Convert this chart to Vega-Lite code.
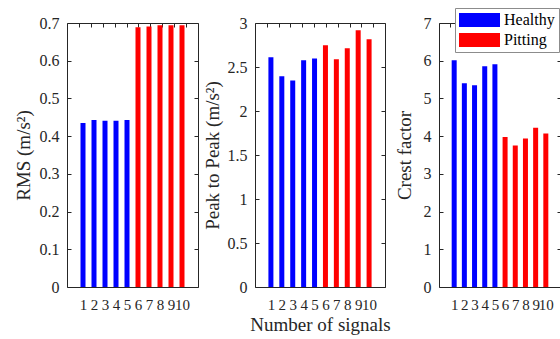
{
  "$schema": "https://vega.github.io/schema/vega-lite/v6.json",
  "padding": {"left": 13, "top": 7, "right": 0, "bottom": 0},
  "background": "white",
  "config": {
    "font": "Liberation Serif",
    "view": {"stroke": "#262626", "strokeWidth": 1},
    "axis": {
      "grid": false,
      "domain": false,
      "tickColor": "#262626",
      "tickWidth": 1,
      "tickSize": 4,
      "labelColor": "#262626",
      "titleColor": "#262626",
      "labelFont": "Liberation Serif",
      "titleFont": "Liberation Serif",
      "labelFontSize": 16,
      "titleFontSize": 19,
      "titleFontWeight": "normal",
      "labelPadding": 8,
      "labelOverlap": false,
      "labelFlush": false
    },
    "axisX": {"labelAngle": 0, "labelPadding": 10, "titlePadding": 3, "labelFontSize": 15},
    "legend": {
      "labelFont": "Liberation Serif",
      "labelFontSize": 16,
      "labelColor": "#000000"
    }
  },
  "data": {
    "values": [
      {"signal": 1, "condition": "Healthy", "rms": 0.435, "p2p": 2.61, "crest": 6.01},
      {"signal": 2, "condition": "Healthy", "rms": 0.443, "p2p": 2.394, "crest": 5.405},
      {"signal": 3, "condition": "Healthy", "rms": 0.441, "p2p": 2.348, "crest": 5.35},
      {"signal": 4, "condition": "Healthy", "rms": 0.441, "p2p": 2.576, "crest": 5.85},
      {"signal": 5, "condition": "Healthy", "rms": 0.443, "p2p": 2.598, "crest": 5.907},
      {"signal": 6, "condition": "Pitting", "rms": 0.689, "p2p": 2.746, "crest": 3.98},
      {"signal": 7, "condition": "Pitting", "rms": 0.691, "p2p": 2.587, "crest": 3.75},
      {"signal": 8, "condition": "Pitting", "rms": 0.694, "p2p": 2.712, "crest": 3.935},
      {"signal": 9, "condition": "Pitting", "rms": 0.694, "p2p": 2.917, "crest": 4.225},
      {"signal": 10, "condition": "Pitting", "rms": 0.694, "p2p": 2.814, "crest": 4.067}
    ]
  },
  "spacing": 3,
  "resolve": {"scale": {"x": "independent", "y": "independent", "color": "independent"}, "legend": {"color": "independent"}},
  "hconcat": [
    {
      "width": 131,
      "height": 264,
      "resolve": {"scale": {"x": "independent", "y": "independent"}, "axis": {"x": "independent", "y": "independent"}},
      "layer": [
        {
          "mark": {"type": "bar", "size": 5},
          "encoding": {
            "x": {"field": "signal", "type": "quantitative", "scale": {"domain": [0, 11], "nice": false}, "axis": {"offset": -4, "values": [1,2,3,4,5,6,7,8,9,10], "title": null, "format": "d"}},
            "y": {"field": "rms", "type": "quantitative", "scale": {"domain": [0, 0.7], "nice": false}, "axis": {"offset": -4, "values": [0,0.1,0.2,0.3,0.4,0.5,0.6,0.7], "format": ".1~f", "title": "RMS (m/s²)", "titlePadding": 6}},
            "color": {"field": "condition", "type": "nominal", "scale": {"domain": ["Healthy", "Pitting"], "range": ["#0000ff", "#ff0000"]}, "legend": null}
          }
        },
        {
          "mark": {"type": "point", "opacity": 0},
          "encoding": {
            "x": {"field": "signal", "type": "quantitative", "scale": {"domain": [0, 11], "nice": false}, "axis": {"offset": -4, "orient": "top", "values": [1,2,3,4,5,6,7,8,9,10], "labels": false, "title": null}},
            "y": {"field": "rms", "type": "quantitative", "scale": {"domain": [0, 0.7], "nice": false}, "axis": {"offset": -4, "orient": "right", "values": [0,0.1,0.2,0.3,0.4,0.5,0.6,0.7], "labels": false, "title": null}}
          }
        }
      ]
    },
    {
      "width": 130,
      "height": 264,
      "resolve": {"scale": {"x": "independent", "y": "independent"}, "axis": {"x": "independent", "y": "independent"}},
      "layer": [
        {
          "mark": {"type": "bar", "size": 5},
          "encoding": {
            "x": {"field": "signal", "type": "quantitative", "scale": {"domain": [0, 11], "nice": false}, "axis": {"offset": -4, "values": [1,2,3,4,5,6,7,8,9,10], "title": "Number of signals", "format": "d"}},
            "y": {"field": "p2p", "type": "quantitative", "scale": {"domain": [0, 3], "nice": false}, "axis": {"offset": -4, "values": [0,0.5,1,1.5,2,2.5,3], "format": ".1~f", "title": "Peak to Peak (m/s²)", "titlePadding": 5}},
            "color": {"field": "condition", "type": "nominal", "scale": {"domain": ["Healthy", "Pitting"], "range": ["#0000ff", "#ff0000"]}, "legend": null}
          }
        },
        {
          "mark": {"type": "point", "opacity": 0},
          "encoding": {
            "x": {"field": "signal", "type": "quantitative", "scale": {"domain": [0, 11], "nice": false}, "axis": {"offset": -4, "orient": "top", "values": [1,2,3,4,5,6,7,8,9,10], "labels": false, "title": null}},
            "y": {"field": "p2p", "type": "quantitative", "scale": {"domain": [0, 3], "nice": false}, "axis": {"offset": -4, "orient": "right", "values": [0,0.5,1,1.5,2,2.5,3], "labels": false, "title": null}}
          }
        }
      ]
    },
    {
      "width": 122,
      "height": 264,
      "resolve": {"scale": {"x": "independent", "y": "independent"}, "axis": {"x": "independent", "y": "independent"}},
      "layer": [
        {
          "mark": {"type": "bar", "size": 5},
          "encoding": {
            "x": {"field": "signal", "type": "quantitative", "scale": {"domain": [0, 11], "nice": false}, "axis": {"offset": -4, "values": [1,2,3,4,5,6,7,8,9,10], "title": null, "format": "d"}},
            "y": {"field": "crest", "type": "quantitative", "scale": {"domain": [0, 7], "nice": false}, "axis": {"offset": -4, "values": [0,1,2,3,4,5,6,7], "format": "d", "title": "Crest factor", "titlePadding": 9}},
            "color": {
              "field": "condition", "type": "nominal",
              "scale": {"domain": ["Healthy", "Pitting"], "range": ["#0000ff", "#ff0000"]},
              "legend": {
                "title": null,
                "orient": "none",
                "legendX": 16,
                "legendY": -15,
                "symbolType": "M-1,-0.34H1V0.34H-1Z",
                "symbolSize": 1681,
                "symbolStrokeWidth": 0,
                "symbolOpacity": 1,
                "clipHeight": 16,
                "labelOffset": 4,
                "rowPadding": 4,
                "padding": 4,
                "strokeColor": "#8c8c8c",
                "fillColor": "white",
                "cornerRadius": 0
              }
            }
          }
        },
        {
          "mark": {"type": "point", "opacity": 0},
          "encoding": {
            "x": {"field": "signal", "type": "quantitative", "scale": {"domain": [0, 11], "nice": false}, "axis": {"offset": -4, "orient": "top", "values": [1,2,3,4,5,6,7,8,9,10], "labels": false, "title": null}},
            "y": {"field": "crest", "type": "quantitative", "scale": {"domain": [0, 7], "nice": false}, "axis": {"offset": -4, "orient": "right", "values": [0,1,2,3,4,5,6,7], "labels": false, "title": null}}
          }
        }
      ]
    }
  ]
}
